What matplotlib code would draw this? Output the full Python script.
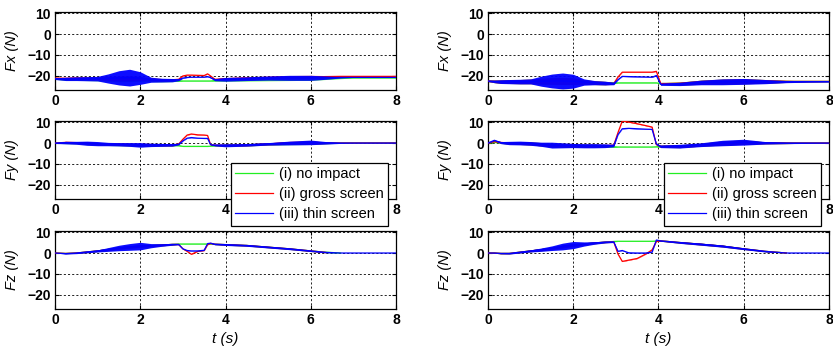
import numpy as np
import matplotlib
matplotlib.use("Agg")
import matplotlib.pyplot as plt

plt.rcParams['font.family'] = ['Liberation Sans', 'DejaVu Sans']

nan = np.nan

# ---------------- data: left column (test A) ----------------
TL = [0, 0.25, 0.5, 0.75, 1.0, 1.25, 1.5, 1.75, 2.0, 2.25, 2.5, 2.75, 2.9, 3.0, 3.1,
      3.2, 3.35, 3.5, 3.58, 3.65, 3.75, 4.0, 4.5, 5.0, 5.5, 6.0, 6.35, 6.7, 7.0, 7.5, 8.0]

L_FX_GREEN = [-21.3, -21.5, -21.4, -21.5, -21.5, -21.6, -21.6, -21.5, -21.6, -22.0, -22.2, -22.2,
              -22.3, -22.4, -22.4, -22.4, -22.4, -22.4, -22.4, -22.4, -22.2, -22.0, -21.8, -21.6,
              -21.4, -21.3, -21.2, -21.1, -21.0, -21.0, -21.0]
L_FX_RED = [-21.0, -21.2, -21.1, -21.1, -21.2, -21.2, -21.2, -21.1, -21.2, -21.6, -21.8, -21.8,
            -21.6, -20.0, -19.6, -19.6, -19.7, -19.8, -19.0, -20.0, -21.6, -21.3, -21.0, -20.8,
            -20.6, -20.5, -20.3, -20.2, -20.2, -20.2, -20.2]
L_FX_BLUE = [-21.3, -21.4, -21.3, -21.3, -21.3, -21.2, -20.9, -20.8, -21.0, -21.8, -22.0, -22.0,
             -21.8, -21.0, -20.7, -20.6, -20.6, -20.6, -20.3, -20.8, -21.8, -21.6, -21.3, -21.0,
             -20.9, -20.9, -20.8, -20.7, -20.7, -20.7, -20.7]
L_FX_BAND_BLUE = [0.4, 0.8, 0.9, 1.0, 1.1, 2.2, 3.4, 4.0, 3.0, 1.2, 0.9, 0.8, 0.5, 0.15, 0.1, 0.1,
                  0.1, 0.1, 0.1, 0.2, 0.5, 0.9, 0.9, 1.0, 1.2, 1.2, 0.8, 0.3, 0.0, 0.0, 0.0]
L_FX_BAND_OTHER = [0.3, 0.6, 0.7, 0.7, 0.8, 1.0, 1.2, 1.2, 1.0, 0.7, 0.6, 0.5, 0.3, 0.1, 0.1, 0.1,
                   0.1, 0.1, 0.1, 0.1, 0.3, 0.5, 0.6, 0.7, 0.8, 0.8, 0.5, 0.2, 0.0, 0.0, 0.0]

L_FY_GREEN = [0.0, 0.2, 0.1, -0.2, -0.4, -0.6, -0.7, -0.8, -1.0, -1.0, -1.0, -1.0, -1.2, -1.6,
              -1.6, -1.6, -1.6, -1.6, -1.6, -1.5, -1.2, -1.1, -0.9, -0.5, -0.1, 0.1, 0.0, 0.0,
              0.0, 0.0, 0.0]
L_FY_RED = [0.0, 0.3, 0.2, 0.0, -0.3, -0.5, -0.6, -0.7, -0.8, -0.8, -0.9, -0.9, -0.5, 1.8, 3.8,
            4.3, 3.9, 3.8, 3.6, -0.8, -1.0, -1.1, -0.9, -0.4, 0.1, 0.3, 0.1, 0.0, 0.0, 0.0, 0.0]
L_FY_BLUE = [0.0, 0.2, 0.1, -0.1, -0.3, -0.5, -0.6, -0.7, -0.9, -0.9, -0.9, -0.9, -0.6, 1.0, 2.3,
             2.6, 2.3, 2.2, 2.2, -0.8, -1.0, -1.1, -0.9, -0.4, 0.0, 0.3, 0.1, 0.0, 0.0, 0.0, 0.0]
L_FY_BAND_BLUE = [0.2, 0.6, 0.7, 1.0, 1.0, 0.8, 0.8, 0.9, 1.1, 0.8, 0.7, 0.6, 0.3, 0.1, 0.1, 0.1,
                  0.1, 0.1, 0.1, 0.1, 0.4, 0.7, 0.6, 0.6, 0.9, 1.1, 0.6, 0.2, 0.1, 0.1, 0.1]
L_FY_BAND_OTHER = [0.2, 0.5, 0.5, 0.6, 0.6, 0.6, 0.6, 0.6, 0.7, 0.6, 0.5, 0.5, 0.2, 0.1, 0.1, 0.1,
                   0.1, 0.1, 0.1, 0.1, 0.3, 0.5, 0.5, 0.5, 0.7, 0.8, 0.4, 0.1, 0.0, 0.0, 0.0]

L_FZ_GREEN = [0.0, -0.2, 0.0, 0.5, 1.0, 1.7, 2.4, 2.9, 3.3, 3.5, 3.8, 4.1, 4.3, 4.3, 4.3, 4.3,
              4.3, 4.3, 4.3, 4.3, 4.2, 4.0, 3.6, 2.8, 2.0, 1.0, 0.4, 0.0, nan, nan, nan]
L_FZ_RED = [0.0, -0.2, 0.0, 0.5, 1.0, 1.7, 2.4, 2.9, 3.3, 3.5, 3.8, 4.1, 4.1, 2.0, 0.8, -0.6,
            0.8, 1.2, 4.0, 4.6, 4.2, 4.0, 3.6, 2.8, 2.0, 1.0, 0.3, nan, nan, nan, nan]
L_FZ_BLUE = [0.0, -0.3, 0.0, 0.5, 1.0, 1.7, 2.4, 2.9, 3.3, 3.5, 3.8, 4.1, 4.1, 2.0, 1.2, 1.0,
             1.0, 1.3, 4.5, 4.7, 4.2, 4.0, 3.6, 2.8, 2.0, 1.0, 0.3, 0.0, 0.0, 0.0, 0.0]
L_FZ_BAND_BLUE = [0.0, 0.2, 0.3, 0.4, 0.5, 0.9, 1.3, 1.6, 1.8, 1.0, 0.6, 0.4, 0.2, 0.1, 0.1, 0.1,
                  0.1, 0.1, 0.1, 0.1, 0.3, 0.4, 0.4, 0.4, 0.4, 0.3, 0.2, 0.0, 0.0, 0.0, 0.0]
L_FZ_BAND_OTHER = [0.0, 0.1, 0.2, 0.3, 0.3, 0.5, 0.6, 0.6, 0.6, 0.5, 0.4, 0.3, 0.1, 0.1, 0.1, 0.1,
                   0.1, 0.1, 0.1, 0.1, 0.2, 0.3, 0.3, 0.3, 0.3, 0.3, 0.2, 0.0, 0.0, 0.0, 0.0]

# ---------------- data: right column (test B) ----------------
TR = [0, 0.15, 0.3, 0.5, 0.75, 1.0, 1.25, 1.5, 1.75, 2.0, 2.25, 2.5, 2.75, 2.95, 3.05, 3.15,
      3.3, 3.5, 3.7, 3.85, 3.95, 4.05, 4.5, 5.0, 5.5, 6.0, 6.5, 7.0, 7.5, 8.0]

R_FX_GREEN = [-22.4, -22.6, -22.7, -22.7, -22.7, -22.6, -22.5, -22.4, -22.4, -22.5, -22.9, -23.2,
              -23.4, -23.3, -23.3, -23.3, -23.3, -23.3, -23.3, -23.3, -23.3, -23.6, -23.6, -23.0,
              -22.7, -22.5, -22.6, -22.6, -22.6, -22.6]
R_FX_RED = [-22.4, -22.6, -22.7, -22.7, -22.7, -22.6, -22.5, -22.4, -22.4, -22.5, -22.9, -23.2,
            -23.4, -23.6, -20.5, -18.2, -18.2, -18.2, -18.2, -18.2, -17.8, -23.6, -23.6, -23.0,
            -22.7, -22.5, -22.6, -22.6, -22.6, -22.6]
R_FX_BLUE = [-22.4, -22.6, -22.7, -22.7, -22.7, -22.6, -22.5, -22.4, -22.4, -22.5, -22.9, -23.2,
             -23.4, -23.6, -21.8, -20.2, -20.3, -20.4, -20.5, -20.6, -19.8, -24.0, -23.8, -23.1,
             -22.8, -22.6, -22.7, -22.7, -22.7, -22.7]
R_FX_BAND_BLUE = [0.3, 0.6, 0.9, 1.0, 1.1, 1.2, 2.4, 3.3, 3.8, 3.3, 1.5, 1.0, 0.9, 0.6, 0.1, 0.1,
                  0.1, 0.1, 0.1, 0.1, 0.2, 0.5, 0.8, 1.1, 1.4, 1.4, 1.0, 0.5, 0.3, 0.2]
R_FX_BAND_OTHER = [0.3, 0.6, 0.8, 0.9, 1.0, 1.1, 1.4, 1.6, 1.7, 1.6, 1.1, 0.9, 0.8, 0.4, 0.1, 0.1,
                   0.1, 0.1, 0.1, 0.1, 0.1, 0.4, 0.7, 1.0, 1.2, 1.2, 0.9, 0.5, 0.3, 0.2]

R_FY_GREEN = [0.0, 0.4, 0.2, 0.0, 0.0, -0.2, -0.6, -1.0, -1.1, -1.2, -1.3, -1.3, -1.4, -1.8, -1.9,
              -1.9, -1.9, -1.9, -1.9, -1.9, -1.8, -1.6, -1.5, -0.8, 0.0, 0.4, 0.1, 0.0, 0.0, 0.0]
R_FY_RED = [0.0, 0.8, 0.3, 0.0, 0.0, -0.2, -0.6, -1.0, -1.1, -1.2, -1.3, -1.3, -1.3, -1.0, 5.0,
            10.5, 10.0, 9.2, 8.3, 7.6, -0.8, -1.6, -1.5, -0.8, 0.0, 0.4, 0.1, 0.0, 0.0, 0.0]
R_FY_BLUE = [0.0, 1.3, 0.2, 0.0, 0.0, -0.2, -0.6, -1.0, -1.1, -1.2, -1.3, -1.3, -1.3, -1.2, 4.0,
             6.8, 7.0, 6.8, 6.6, 6.5, -0.5, -1.6, -1.5, -0.8, 0.0, 0.4, 0.1, 0.0, 0.0, 0.0]
R_FY_BAND_BLUE = [0.1, 0.2, 0.5, 0.8, 0.9, 0.9, 1.0, 1.4, 1.2, 1.0, 1.0, 1.0, 0.9, 0.6, 0.1, 0.1,
                  0.1, 0.1, 0.1, 0.1, 0.2, 0.6, 0.9, 0.9, 1.3, 1.4, 0.6, 0.3, 0.2, 0.1]
R_FY_BAND_OTHER = [0.1, 0.2, 0.4, 0.6, 0.7, 0.7, 0.8, 0.9, 0.9, 0.8, 0.8, 0.8, 0.7, 0.3, 0.1, 0.1,
                   0.1, 0.1, 0.1, 0.1, 0.1, 0.5, 0.7, 0.7, 1.0, 1.0, 0.5, 0.3, 0.1, 0.1]

R_FZ_GREEN = [0.0, 0.0, -0.2, -0.2, 0.4, 1.0, 1.6, 2.3, 3.1, 3.8, 4.3, 4.8, 5.2, 5.5, 5.6, 5.6,
              5.6, 5.6, 5.6, 5.6, 5.7, 5.8, 5.0, 4.2, 3.3, 2.0, 0.8, 0.0, nan, nan]
R_FZ_RED = [0.0, 0.0, -0.2, -0.2, 0.4, 1.0, 1.6, 2.3, 3.1, 3.8, 4.3, 4.8, 5.2, 5.3, -0.5, -4.0,
            -3.4, -2.6, -0.5, 1.5, 5.5, 5.8, 5.0, 4.2, 3.3, 2.0, 0.8, 0.0, nan, nan]
R_FZ_BLUE = [0.0, 0.0, -0.2, -0.2, 0.4, 1.0, 1.6, 2.3, 3.1, 3.8, 4.3, 4.8, 5.2, 5.3, 0.8, 1.2,
             0.1, 0.0, 0.0, 0.4, 6.2, 5.8, 5.0, 4.2, 3.3, 2.0, 0.8, 0.0, 0.0, 0.0]
R_FZ_BAND_BLUE = [0.0, 0.1, 0.2, 0.3, 0.4, 0.5, 0.8, 1.1, 1.6, 1.7, 1.0, 0.6, 0.4, 0.3, 0.1, 0.1,
                  0.1, 0.1, 0.1, 0.1, 0.1, 0.2, 0.4, 0.5, 0.5, 0.4, 0.3, 0.0, 0.0, 0.0]
R_FZ_BAND_OTHER = [0.0, 0.1, 0.2, 0.2, 0.3, 0.4, 0.5, 0.6, 0.7, 0.7, 0.5, 0.4, 0.3, 0.2, 0.1, 0.1,
                   0.1, 0.1, 0.1, 0.1, 0.1, 0.2, 0.3, 0.4, 0.4, 0.3, 0.2, 0.0, 0.0, 0.0]

SERIES_LABELS = ['(i) no impact', '(ii) gross screen', '(iii) thin screen']
SERIES_COLORS = ['#22ee22', '#ff0000', '#0000ff']
Y_LABELS = ['Fx (N)', 'Fy (N)', 'Fz (N)']
X_TICKS = [0, 2, 4, 6, 8]
Y_TICKS = [-20, -10, 0, 10]
X_LABEL = 't (s)'

panels = {
    (0, 0): (TL, [L_FX_GREEN, L_FX_RED, L_FX_BLUE], L_FX_BAND_OTHER, L_FX_BAND_BLUE),
    (1, 0): (TL, [L_FY_GREEN, L_FY_RED, L_FY_BLUE], L_FY_BAND_OTHER, L_FY_BAND_BLUE),
    (2, 0): (TL, [L_FZ_GREEN, L_FZ_RED, L_FZ_BLUE], L_FZ_BAND_OTHER, L_FZ_BAND_BLUE),
    (0, 1): (TR, [R_FX_GREEN, R_FX_RED, R_FX_BLUE], R_FX_BAND_OTHER, R_FX_BAND_BLUE),
    (1, 1): (TR, [R_FY_GREEN, R_FY_RED, R_FY_BLUE], R_FY_BAND_OTHER, R_FY_BAND_BLUE),
    (2, 1): (TR, [R_FZ_GREEN, R_FZ_RED, R_FZ_BLUE], R_FZ_BAND_OTHER, R_FZ_BAND_BLUE),
}

W, H = 833, 351
fig = plt.figure(figsize=(W / 100, H / 100), dpi=100)

col_left = [55, 488]
row_top = [12, 121, 231]
ax_w, ax_h = 341, 78

for (r, c), (t, ys, band_o, band_b) in panels.items():
    ax = fig.add_axes([col_left[c] / W, 1 - (row_top[r] + ax_h) / H, ax_w / W, ax_h / H])
    t = np.array(t, dtype=float)
    handles = []
    for k, (y, col) in enumerate(zip(ys, SERIES_COLORS)):
        y = np.array(y, dtype=float)
        b = np.array(band_b if k == 2 else band_o, dtype=float)
        ax.fill_between(t, y - b, y + b, color=col, lw=0, alpha=0.95 if k == 2 else 0.85,
                        zorder=2 + k)
        h, = ax.plot(t, y, color=col, lw=0.9, label=SERIES_LABELS[k], zorder=2.5 + k)
        handles.append(h)
    ax.set_xlim(0, 8)
    ax.set_ylim(-26.7, 10.5)
    ax.set_xticks(X_TICKS)
    ax.set_yticks(Y_TICKS)
    ax.grid(True, color='black', linestyle=(0, (2.5, 2.5)), linewidth=0.6)
    ax.tick_params(direction='in', length=3, width=0.8, top=True, right=True,
                   labelsize=10, pad=3)
    for lab in ax.get_xticklabels() + ax.get_yticklabels():
        lab.set_fontweight('bold')
    for sp in ax.spines.values():
        sp.set_linewidth(0.9)
    ax.set_ylabel(Y_LABELS[r], fontsize=10.5, fontstyle='italic')
    ax.yaxis.set_label_coords(-0.107, 0.5)
    if r == 2:
        ax.set_xlabel(X_LABEL, fontsize=11, fontstyle='italic')
        ax.xaxis.set_label_coords(0.5, -0.29)
    if r == 1:
        leg = ax.legend(handles=handles, loc='upper left', bbox_to_anchor=(0.516, 0.46),
                        fontsize=10.5, frameon=True, fancybox=False, edgecolor='black',
                        framealpha=1, handlelength=2.6, handletextpad=0.4,
                        labelspacing=0.4, borderpad=0.3, borderaxespad=0)
        leg.get_frame().set_linewidth(0.9)
        leg.set_zorder(10)

fig.savefig('out.png', dpi=100)
